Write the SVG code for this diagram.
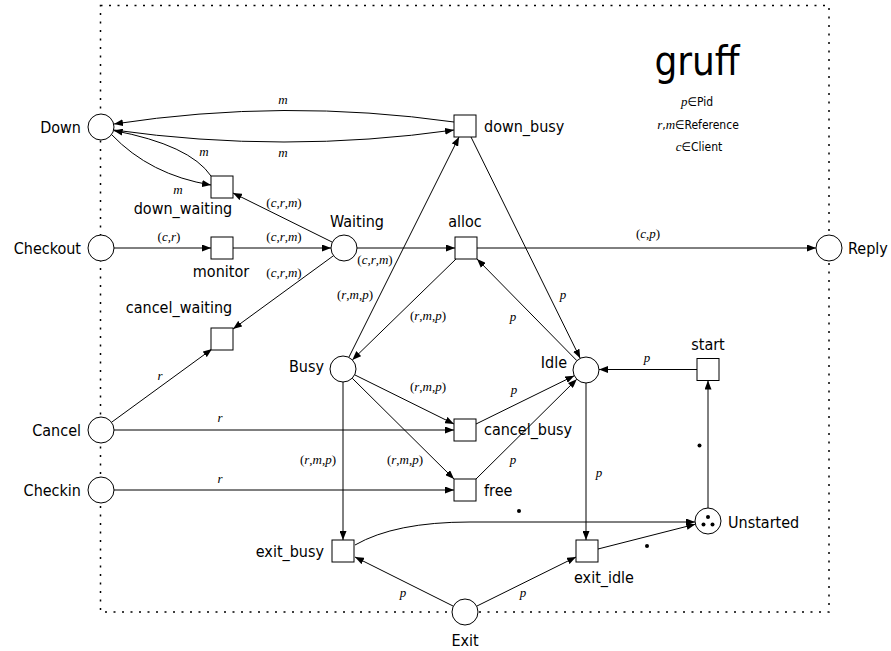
<svg xmlns="http://www.w3.org/2000/svg" width="891" height="651" viewBox="0 0 891 651">
<style>
.pl{fill:#fff;stroke:#000;stroke-width:1}
.tr{fill:#fff;stroke:#000;stroke-width:1}
.lb{font-family:"DejaVu Sans Condensed","DejaVu Sans",sans-serif;font-stretch:condensed;font-size:16px;fill:#000}
.al{font-family:"Liberation Serif",serif;font-size:13px;fill:#000}
.i{font-style:italic}
.lg{font-family:"DejaVu Sans Condensed","DejaVu Sans",sans-serif;font-stretch:condensed;font-size:12px;fill:#000}
.ar{fill:none;stroke:#000;stroke-width:1;marker-end:url(#ah)}
.tk{fill:#000}
</style>
<defs>
<marker id="ah" markerUnits="userSpaceOnUse" markerWidth="9" markerHeight="7" refX="9" refY="3.5" orient="auto">
<path d="M0,0 L9,3.5 L0,7 z" fill="#000"/>
</marker>
</defs>
<rect x="100.5" y="5.5" width="728.5" height="606.5" fill="none" stroke="#000" stroke-width="1.5" stroke-dasharray="2,6.5"/>
<text x="697" y="75" text-anchor="middle" style="font-family:'DejaVu Sans Condensed','DejaVu Sans',sans-serif;font-stretch:condensed;font-size:40px">gruff</text>
<text class="lg" x="697" y="106" text-anchor="middle"><tspan class="i" style="font-family:'Liberation Serif',serif;font-size:13px">p</tspan>∈Pid</text>
<text class="lg" x="698" y="129" text-anchor="middle"><tspan class="i" style="font-family:'Liberation Serif',serif;font-size:13px">r</tspan>,<tspan class="i" style="font-family:'Liberation Serif',serif;font-size:13px">m</tspan>∈Reference</text>
<text class="lg" x="699" y="151" text-anchor="middle"><tspan class="i" style="font-family:'Liberation Serif',serif;font-size:13px">c</tspan>∈Client</text>
<g id="connectors">
<path class="ar" d="M454,122 Q284,98 114,124"/>
<path class="ar" d="M114,130 Q284,154 454,130"/>
<path class="ar" d="M211,176 Q190,145 113.6,130.5"/>
<path class="ar" d="M111.5,134.5 Q150,175 211,185"/>
<path class="ar" d="M114,248 L211,248"/>
<path class="ar" d="M233,248 L331,248"/>
<path class="ar" d="M332.4,242.2 L233,193"/>
<path class="ar" d="M333.5,255.7 L233,329"/>
<path class="ar" d="M357,248 L455,248"/>
<path class="ar" d="M477,248 L816,248"/>
<path class="ar" d="M456,259 L352.3,359.9"/>
<path class="ar" d="M348.8,357.4 L459,137"/>
<path class="ar" d="M471,137 L580.2,358.3"/>
<path class="ar" d="M576.9,360.7 L477,259"/>
<path class="ar" d="M354.6,374.8 L454,424"/>
<path class="ar" d="M476,424 L574.3,375.7"/>
<path class="ar" d="M352.2,378.2 L454,479"/>
<path class="ar" d="M476,479 L576.8,379.2"/>
<path class="ar" d="M114,430 L454,430"/>
<path class="ar" d="M111.5,422.3 L212,349"/>
<path class="ar" d="M114,490 L454,490"/>
<path class="ar" d="M343,382 L343,540"/>
<path class="ar" d="M586,383 L586,540"/>
<path class="ar" d="M697,369.5 L599,369.5"/>
<path class="ar" d="M708,508 L708,380.5"/>
<path class="ar" d="M355,545 Q395,522 470,522 L695,522"/>
<path class="ar" d="M598,549 L695.4,524.2"/>
<path class="ar" d="M453.4,606.2 L355,557"/>
<path class="ar" d="M476.6,606.2 L576,557"/>
<text class="al" x="283" y="104" text-anchor="middle"><tspan class="i">m</tspan></text>
<text class="al" x="283" y="157" text-anchor="middle"><tspan class="i">m</tspan></text>
<text class="al" x="204" y="156" text-anchor="middle"><tspan class="i">m</tspan></text>
<text class="al" x="178" y="194" text-anchor="middle"><tspan class="i">m</tspan></text>
<text class="al" x="169" y="241" text-anchor="middle">(<tspan class="i">c</tspan>,<tspan class="i">r</tspan>)</text>
<text class="al" x="284" y="241" text-anchor="middle">(<tspan class="i">c</tspan>,<tspan class="i">r</tspan>,<tspan class="i">m</tspan>)</text>
<text class="al" x="284" y="207" text-anchor="middle">(<tspan class="i">c</tspan>,<tspan class="i">r</tspan>,<tspan class="i">m</tspan>)</text>
<text class="al" x="284" y="277" text-anchor="middle">(<tspan class="i">c</tspan>,<tspan class="i">r</tspan>,<tspan class="i">m</tspan>)</text>
<text class="al" x="375" y="264" text-anchor="middle">(<tspan class="i">c</tspan>,<tspan class="i">r</tspan>,<tspan class="i">m</tspan>)</text>
<text class="al" x="648" y="238" text-anchor="middle">(<tspan class="i">c</tspan>,<tspan class="i">p</tspan>)</text>
<text class="al" x="428" y="320" text-anchor="middle">(<tspan class="i">r</tspan>,<tspan class="i">m</tspan>,<tspan class="i">p</tspan>)</text>
<text class="al" x="355" y="299" text-anchor="middle">(<tspan class="i">r</tspan>,<tspan class="i">m</tspan>,<tspan class="i">p</tspan>)</text>
<text class="al" x="563" y="299" text-anchor="middle"><tspan class="i">p</tspan></text>
<text class="al" x="513" y="321" text-anchor="middle"><tspan class="i">p</tspan></text>
<text class="al" x="428" y="391" text-anchor="middle">(<tspan class="i">r</tspan>,<tspan class="i">m</tspan>,<tspan class="i">p</tspan>)</text>
<text class="al" x="514" y="394" text-anchor="middle"><tspan class="i">p</tspan></text>
<text class="al" x="405" y="464" text-anchor="middle">(<tspan class="i">r</tspan>,<tspan class="i">m</tspan>,<tspan class="i">p</tspan>)</text>
<text class="al" x="513" y="464" text-anchor="middle"><tspan class="i">p</tspan></text>
<text class="al" x="220" y="422" text-anchor="middle"><tspan class="i">r</tspan></text>
<text class="al" x="160" y="380" text-anchor="middle"><tspan class="i">r</tspan></text>
<text class="al" x="220" y="483" text-anchor="middle"><tspan class="i">r</tspan></text>
<text class="al" x="318" y="464" text-anchor="middle">(<tspan class="i">r</tspan>,<tspan class="i">m</tspan>,<tspan class="i">p</tspan>)</text>
<text class="al" x="599" y="477" text-anchor="middle"><tspan class="i">p</tspan></text>
<text class="al" x="647" y="362" text-anchor="middle"><tspan class="i">p</tspan></text>
<text class="al" x="403" y="597" text-anchor="middle"><tspan class="i">p</tspan></text>
<text class="al" x="523" y="597" text-anchor="middle"><tspan class="i">p</tspan></text>
<circle class="tk" cx="699.5" cy="445.5" r="2"/>
<circle class="tk" cx="519" cy="511" r="2"/>
<circle class="tk" cx="647" cy="546" r="2"/>
</g>
<g id="Down"><circle class="pl" cx="101" cy="127" r="13"/><text class="lb" x="81" y="133" text-anchor="end">Down</text></g>
<g id="Checkout"><circle class="pl" cx="101" cy="248" r="13"/><text class="lb" x="81" y="254" text-anchor="end">Checkout</text></g>
<g id="Cancel"><circle class="pl" cx="101" cy="430" r="13"/><text class="lb" x="81" y="436" text-anchor="end">Cancel</text></g>
<g id="Checkin"><circle class="pl" cx="101" cy="490" r="13"/><text class="lb" x="81" y="496" text-anchor="end">Checkin</text></g>
<g id="Waiting"><circle class="pl" cx="344" cy="248" r="13"/><text class="lb" x="357" y="227" text-anchor="middle">Waiting</text></g>
<g id="Reply"><circle class="pl" cx="829" cy="248" r="13"/><text class="lb" x="848" y="254">Reply</text></g>
<g id="Busy"><circle class="pl" cx="343" cy="369" r="13"/><text class="lb" x="324" y="372" text-anchor="end">Busy</text></g>
<g id="Idle"><circle class="pl" cx="586" cy="370" r="13"/><text class="lb" x="567" y="368" text-anchor="end">Idle</text></g>
<g id="Unstarted"><circle class="pl" cx="708" cy="521" r="13"/><circle class="tk" cx="708" cy="517" r="2"/><circle class="tk" cx="703.5" cy="524.5" r="2"/><circle class="tk" cx="712.5" cy="524.5" r="2"/><text class="lb" x="728" y="528">Unstarted</text></g>
<g id="Exit"><circle class="pl" cx="465" cy="612" r="13"/><text class="lb" x="465" y="646" text-anchor="middle">Exit</text></g>
<g id="down_busy"><rect class="tr" x="454" y="115" width="22" height="22"/><text class="lb" x="484" y="132">down_busy</text></g>
<g id="alloc"><rect class="tr" x="455" y="237" width="22" height="22"/><text class="lb" x="465" y="227" text-anchor="middle">alloc</text></g>
<g id="down_waiting"><rect class="tr" x="211" y="176" width="22" height="22"/><text class="lb" x="183" y="214" text-anchor="middle">down_waiting</text></g>
<g id="monitor"><rect class="tr" x="211" y="237" width="22" height="22"/><text class="lb" x="221" y="277" text-anchor="middle">monitor</text></g>
<g id="cancel_waiting"><rect class="tr" x="211" y="328" width="22" height="22"/><text class="lb" x="179" y="313" text-anchor="middle">cancel_waiting</text></g>
<g id="cancel_busy"><rect class="tr" x="454" y="419" width="22" height="22"/><text class="lb" x="484" y="435">cancel_busy</text></g>
<g id="free"><rect class="tr" x="454" y="479" width="22" height="22"/><text class="lb" x="484" y="496">free</text></g>
<g id="start"><rect class="tr" x="697" y="358.5" width="22" height="22"/><text class="lb" x="708" y="350" text-anchor="middle">start</text></g>
<g id="exit_busy"><rect class="tr" x="332" y="540" width="22" height="22"/><text class="lb" x="324" y="557" text-anchor="end">exit_busy</text></g>
<g id="exit_idle"><rect class="tr" x="576" y="540" width="22" height="22"/><text class="lb" x="604" y="583" text-anchor="middle">exit_idle</text></g>
</svg>
